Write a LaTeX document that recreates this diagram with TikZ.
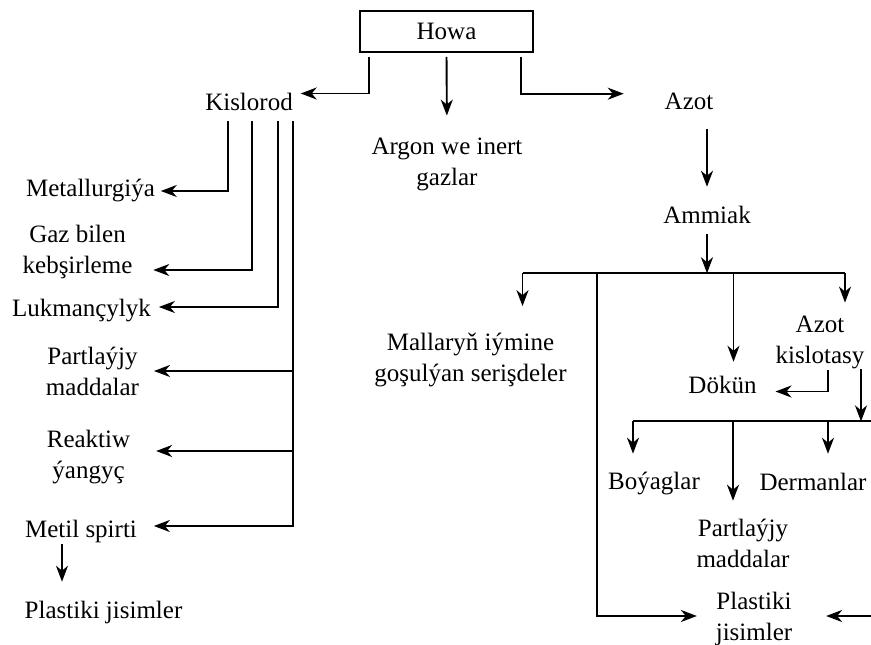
\documentclass[tikz,border=0pt]{standalone}
\usepackage{fontspec}
\setmainfont{Liberation Serif}
\usetikzlibrary{arrows.meta}
\usetikzlibrary{positioning}

\begin{document}
\begin{tikzpicture}[x=1pt,y=-1pt,line width=1.9pt,
every node/.style={inner sep=0pt,align=center,font=\fontsize{25}{31}\selectfont},
arr/.style={-{Stealth[length=16pt,width=12pt,inset=5pt]}}]
\useasboundingbox (0,0) rectangle (871,645);
\node[draw,line width=1.6pt,minimum width=173pt,minimum height=41pt] (howa) at (446.5,31.5) {Howa};
\node (kis) at (249,101.5) {Kislorod};
\node (argon) at (447,164) {Argon we inert\\gazlar};
\node (azot) at (689,101.7) {Azot};
\node (amm) at (707,214.5) {Ammiak};
\node (met) at (90.5,191) {Metallurgiýa};
\node (gaz) at (77.5,252) {Gaz bilen\\kebşirleme};
\node (luk) at (81.5,311) {Lukmançylyk};
\node (part1) at (92.5,371) {Partlaýjy\\maddalar};
\node (reak) at (88.5,457) {Reaktiw\\ýangyç};
\node (metil) at (81,531) {Metil spirti};
\node (plast1) at (103.5,612) {Plastiki jisimler};
\node (mall) at (470.5,360) {Mallaryň iýmine\\goşulýan serişdeler};
\node (dok) at (722.5,384.5) {Dökün};
\node (azk) at (820,342) {Azot\\kislotasy};
\node (boy) at (654,484) {Boýaglar};
\node (derm) at (813,481.5) {Dermanlar};
\node (part2) at (743,543) {Partlaýjy\\maddalar};
\node (plast2) at (754,619) {Plastiki\\jisimler};
\draw[arr] ([xshift=10pt]howa.south west) ++(0,4) |- ([xshift=7pt,yshift=8pt]kis.east);
\draw[arr,shorten <=4pt,shorten >=21pt] (howa.south) -- (argon.north);
\draw[arr] ([xshift=-13pt]howa.south east) ++(0,4) |- ([xshift=-40pt,yshift=8pt]azot.west);
\draw[arr,shorten <=18pt,shorten >=18pt] (amm.north |- azot.south) -- (amm.north);
\draw[arr] ([xshift=-21pt]kis.south) ++(0,10) |- ([xshift=5pt]met.east);
\draw[arr] ([xshift=3pt]kis.south) ++(0,10) |- ([xshift=20pt,yshift=-18pt]gaz.east);
\draw[arr] ([xshift=29pt]kis.south) ++(0,10) |- ([xshift=7pt,yshift=4pt]luk.east);
\draw[arr] ([xshift=44pt]kis.south) ++(0,10) |- ([xshift=16pt,yshift=5pt]metil.east);
\draw[arr] ([xshift=44pt]kis.south |- part1.east) -- ([xshift=14pt]part1.east);
\draw[arr] ([xshift=44pt,yshift=6pt]kis.south |- reak.east) -- ([xshift=25pt,yshift=6pt]reak.east);
\draw[arr,shorten <=1pt,shorten >=18pt] ([xshift=-19pt]metil.south) -- ([xshift=-19pt]metil.south |- plast1.north);
\path (amm.south) ++(0,49) coordinate (bus1);
\draw[arr,shorten <=10pt] (amm.south) -- (bus1);
\draw ([xshift=52pt]bus1 -| mall.north) -- ([xshift=25pt]bus1 -| azk.north);
\draw[arr,shorten >=26pt] ([xshift=52pt]bus1 -| mall.north) -- ([xshift=52pt]mall.north);
\draw[arr,shorten >=13pt] ([xshift=11pt]bus1 -| dok.north) -- ([xshift=11pt]dok.north);
\draw[arr,shorten >=12pt] ([xshift=25pt]bus1 -| azk.north) -- ([xshift=25pt]azk.north);
\draw[arr] ([xshift=-118pt]bus1 -| plast2.west) |- ([xshift=-18pt,yshift=3pt]plast2.west);
\draw[arr] ([xshift=8pt]azk.south) ++(0,1) |- ([xshift=18pt,yshift=-7pt]dok.east);
\path ([xshift=41pt]azk.south) ++(0,52) coordinate (bus2);
\draw[arr] ([xshift=41pt]azk.south) -- (bus2);
\draw ([xshift=-21pt]bus2 -| boy.north) -- ([xshift=10pt]bus2);
\draw[arr,shorten >=18pt] ([xshift=-21pt]bus2 -| boy.north) -- ([xshift=-21pt]boy.north);
\draw[arr,shorten >=17pt] ([xshift=-10pt]bus2 -| part2.north) -- ([xshift=-10pt]part2.north);
\draw[arr,shorten >=18pt] ([xshift=15pt]bus2 -| derm.north) -- ([xshift=15pt]derm.north);
\coordinate (redge) at (871,616);
\draw[arr] (redge) -- ([xshift=33pt]plast2.east |- redge);
\end{tikzpicture}
\end{document}
